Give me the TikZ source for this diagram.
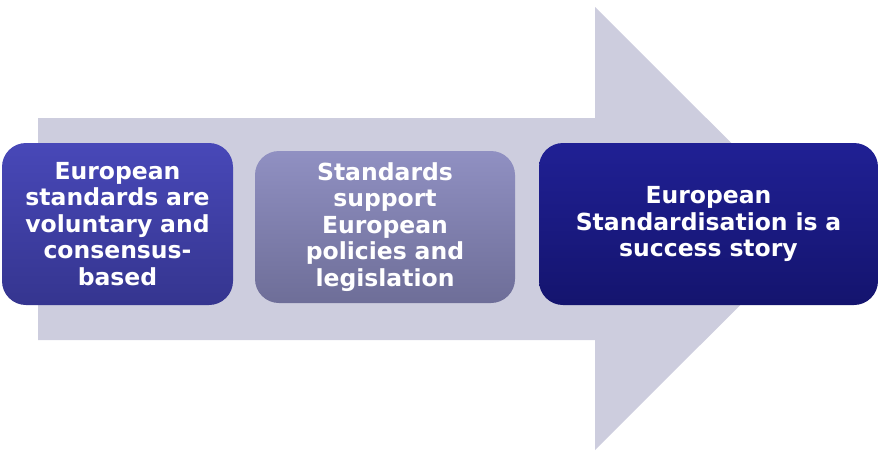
\documentclass[tikz,border=0pt]{standalone}
\usepackage{fontspec}
\setmainfont{DejaVu Sans}
\definecolor{arrowc}{HTML}{CDCDDE}
\definecolor{aTop}{HTML}{4848B8}
\definecolor{aBot}{HTML}{35358F}
\definecolor{bTop}{HTML}{9090C2}
\definecolor{bBot}{HTML}{6E6E98}
\definecolor{cTop}{HTML}{202094}
\definecolor{cBot}{HTML}{14146E}
\tikzset{
  card/.style={rounded corners=24pt, inner sep=0pt, align=center, text=white,
    font=\bfseries\fontsize{23.5}{26.5}\selectfont, anchor=center},
}
\begin{document}
\begin{tikzpicture}[x=1pt,y=-1pt]
\useasboundingbox (0,0) rectangle (879,451);
\fill[arrowc] (38,118) -- (595,118) -- (595,7) -- (817,228.5) -- (595,450) -- (595,340) -- (38,340) -- cycle;
\node[card, top color=aTop, bottom color=aBot, minimum width=231pt, minimum height=162pt, text width=220pt] (a) at (117.5,224) {European\\standards are\\voluntary and\\consensus-\\based};
\node[card, top color=bTop, bottom color=bBot, minimum width=260pt, minimum height=152pt, text width=240pt] (b) at (385,227) {Standards\\support\\European\\policies and\\legislation};
\node[card, top color=cTop, bottom color=cBot, minimum width=339pt, minimum height=162pt, text width=320pt] (c) at (708.5,224) {European\\Standardisation is a\\success story};
\end{tikzpicture}
\end{document}
